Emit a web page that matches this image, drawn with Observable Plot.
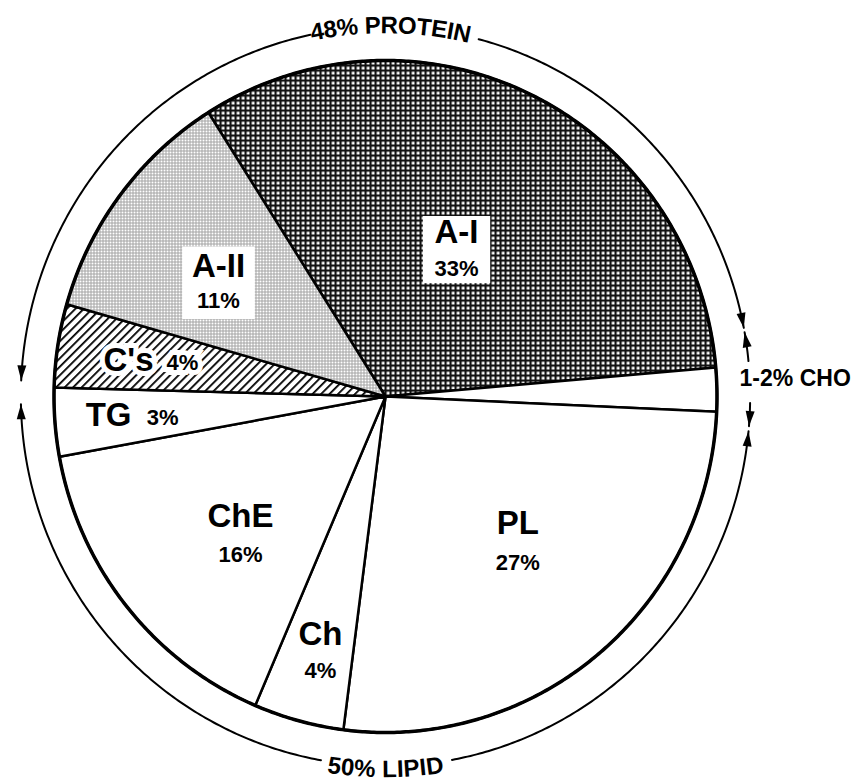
<!DOCTYPE html>
<html><head><meta charset="utf-8">
<script src="https://cdn.jsdelivr.net/npm/d3@7"></script>
<script src="https://cdn.jsdelivr.net/npm/@observablehq/plot@0.6"></script>
<style>body{margin:0;background:#fff}#chart{width:854px;height:783px}</style>
</head><body><div id="chart"></div>
<script>
// ---- data ----
const categories = ["A-I", "CHO", "PL", "Ch", "ChE", "TG", "C's", "A-II"];
const shares     = [32.6, 2.1, 26.3, 4.4, 15.7, 3.3, 4.0, 11.6];   // % of particle mass
const pctLabels  = ["33%", "", "27%", "4%", "16%", "3%", "4%", "11%"];
const groupLabels = ["48% PROTEIN", "50% LIPID", "1-2% CHO"];
const startAngleDeg = -32.3;   // A-I begins here (clockwise from 12 o'clock)

// ---- layout / style (kept apart from the data) ----
const fills = ["url(#pDark)", "white", "white", "white", "white", "white", "url(#pHatch)", "url(#pLight)"];
const labelLayout = {
  "A-I":  {a: 26.1,  r: 0.487, stack: true,  box: 38, gap: 17},
  "PL":   {a: 137.4, r: 0.590, stack: true,  gap: 19},
  "Ch":   {a: 194.5, r: 0.784, stack: true,  gap: 17},
  "ChE":  {a: 226.8, r: 0.600, stack: true,  gap: 18},
  "TG":   {a: 265.8, r: 0.771, stack: false, halo: false},
  "C's":  {a: 278.6, r: 0.717, stack: false, halo: true},
  "A-II": {a: 303.9, r: 0.607, stack: true,  box: 41, gap: 16}
};
// curved group labels: centre angle (deg), radius in px of the text middle, direction along the arc
const groupLayout = [
  {a: 0.8,   rpx: 371, curved: true, dir: 1},
  {a: 180,   rpx: 373, curved: true, dir: -1},
  {a: 87.5,  r: 1.237, curved: false}
];
const outerR = 1.1;
const arcSegments = [
  {from: 348.1, to: 272.5},
  {from: 14.8,  to: 79.3},
  {from: 84.5,  to: 80.0},
  {from: 91.0,  to: 94.6},
  {from: 169.5, to: 95.4},
  {from: 190.2, to: 268.8}
];
const font = "'Liberation Sans', Arial, Helvetica, sans-serif";
const groupFontSize = 24;
const PX_X = 331.5, PX_Y = 336;   // pixels per unit radius

// ---- geometry ----
const rad = d => d * Math.PI / 180;
const polar = (deg, r) => ({x: r * Math.sin(rad(deg)), y: r * Math.cos(rad(deg))});
const shift = (p, dxPx, dyPx) => ({x: p.x + dxPx / PX_X, y: p.y - dyPx / PX_Y});
const arcs = d3.pie().sort(null).value(d => d)
  .startAngle(rad(startAngleDeg)).endAngle(rad(startAngleDeg) + 2 * Math.PI)(shares);

function arcPoints(a0, a1, r, stepDeg = 0.5) {
  const pts = [];
  const n = Math.max(2, Math.ceil(Math.abs(a1 - a0) / stepDeg));
  for (let i = 0; i <= n; i++) pts.push(polar(a0 + (a1 - a0) * i / n, r));
  return pts;
}
const slicePolys = arcs.map(a => {
  const a0 = a.startAngle * 180 / Math.PI, a1 = a.endAngle * 180 / Math.PI;
  return [{x: 0, y: 0}, ...arcPoints(a0, a1, 1), {x: 0, y: 0}];
});
const rim = arcPoints(0, 360, 1);

const bigRows = [], pctRows = [], boxRows = [], haloBig = [], haloPct = [];
categories.forEach((c, i) => {
  const L = labelLayout[c];
  if (!L) return;
  const p = polar(L.a, L.r);
  let b, q;
  if (L.stack) {
    b = {...shift(p, 0, -L.gap), text: c};
    q = {...shift(p, 0, L.gap + 2), text: pctLabels[i]};
  } else {
    b = {...shift(p, -22, 0), text: c};
    q = {...shift(p, 32, 2), text: pctLabels[i]};
  }
  bigRows.push(b); pctRows.push(q);
  if (L.halo) { haloBig.push(b); haloPct.push(q); }
  if (L.box) boxRows.push({...p, r: L.box});
});

const arcLines = arcSegments.map(s => arcPoints(s.from, s.to, outerR));
const arrowHeads = arcSegments.map(s => ({
  ...polar(s.to, outerR),
  rotate: s.to > s.from ? s.to + 90 : s.to - 90
}));

// group labels: curved ones set letter by letter along the outer arc
const measure = document.createElement("canvas").getContext("2d");
measure.font = `bold ${groupFontSize}px ${font}`;
const groupChars = [], groupStraight = [];
groupLabels.forEach((t, i) => {
  const G = groupLayout[i];
  if (!G.curved) { groupStraight.push({...polar(G.a, G.r), text: t}); return; }
  const chars = [...t];
  const widths = chars.map(ch => measure.measureText(ch).width);
  const total = d3.sum(widths);
  let off = -total / 2;
  chars.forEach((ch, k) => {
    const s = off + widths[k] / 2;           // arc length from the middle, px
    off += widths[k];
    const th = G.a + G.dir * (s / G.rpx) * 180 / Math.PI;
    groupChars.push({
      x: G.rpx * Math.sin(rad(th)) / PX_X,
      y: G.rpx * Math.cos(rad(th)) / PX_Y,
      text: ch,
      rotate: G.dir > 0 ? th : th - 180
    });
  });
});

const arrowSymbol = {draw(ctx) { ctx.moveTo(0, 0); ctx.lineTo(4.5, 15); ctx.lineTo(-4.5, 15); ctx.closePath(); }};

const chart = Plot.plot({
  width: 854, height: 783, margin: 0,
  x: {domain: [-1.1614, 1.4148], axis: null},
  y: {domain: [-1.1518, 1.1786], axis: null},
  r: {type: "identity"},
  style: {fontFamily: font, background: "white", color: "black"},
  marks: [
    ...slicePolys.map((pts, i) => Plot.line(pts, {x: "x", y: "y", fill: fills[i], stroke: "black", strokeWidth: 2.5, strokeLinejoin: "round"})),
    Plot.line(rim, {x: "x", y: "y", stroke: "black", strokeWidth: 3.5}),
    Plot.dot(boxRows, {x: "x", y: "y", r: "r", symbol: "square", fill: "white", stroke: "none"}),
    Plot.text(haloBig, {x: "x", y: "y", text: "text", fontSize: 33, fontWeight: "bold", fill: "white", stroke: "white", strokeWidth: 10, strokeLinejoin: "miter"}),
    Plot.text(haloPct, {x: "x", y: "y", text: "text", fontSize: 22, fontWeight: "bold", fill: "white", stroke: "white", strokeWidth: 10, strokeLinejoin: "miter"}),
    Plot.text(bigRows, {x: "x", y: "y", text: "text", fontSize: 33, fontWeight: "bold", fill: "black"}),
    Plot.text(pctRows, {x: "x", y: "y", text: "text", fontSize: 22, fontWeight: "bold", fill: "black"}),
    ...arcLines.map(pts => Plot.line(pts, {x: "x", y: "y", stroke: "black", strokeWidth: 2})),
    Plot.dot(arrowHeads, {x: "x", y: "y", rotate: "rotate", symbol: arrowSymbol, r: 5, fill: "black", stroke: "none"}),
    Plot.text(groupChars, {x: "x", y: "y", text: "text", rotate: "rotate", fontSize: groupFontSize, fontWeight: "bold", fill: "black"}),
    Plot.text(groupStraight, {x: "x", y: "y", text: "text", fontSize: 23, fontWeight: "bold", fill: "black"})
  ]
});
document.getElementById("chart").appendChild(chart);

// fill patterns used by the slices
const svg = d3.select(chart);
const defs = svg.insert("defs", ":first-child");
const pd = defs.append("pattern").attr("id", "pDark").attr("patternUnits", "userSpaceOnUse").attr("width", 5).attr("height", 5);
pd.append("rect").attr("width", 5).attr("height", 5).attr("fill", "#111");
pd.append("rect").attr("x", 1.2).attr("y", 1.2).attr("width", 2.8).attr("height", 2.8).attr("fill", "white");
const pl = defs.append("pattern").attr("id", "pLight").attr("patternUnits", "userSpaceOnUse").attr("width", 3).attr("height", 3);
pl.append("rect").attr("width", 3).attr("height", 3).attr("fill", "#a4a4a4");
pl.append("rect").attr("x", 1).attr("y", 1).attr("width", 2).attr("height", 2).attr("fill", "white");
const ph = defs.append("pattern").attr("id", "pHatch").attr("patternUnits", "userSpaceOnUse").attr("width", 6).attr("height", 6).attr("patternTransform", "rotate(45)");
ph.append("rect").attr("width", 6).attr("height", 6).attr("fill", "white");
ph.append("rect").attr("width", 1.8).attr("height", 6).attr("fill", "black");
</script>
</body></html>
